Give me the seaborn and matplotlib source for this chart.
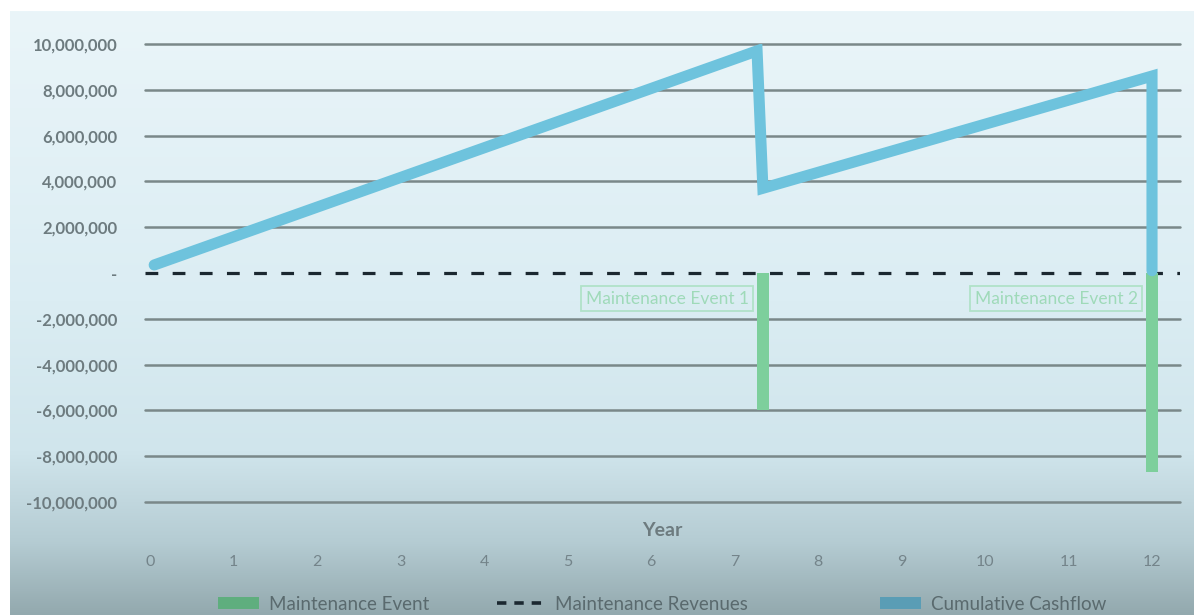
import numpy as np
import matplotlib
matplotlib.use("Agg")
import matplotlib.pyplot as plt
import seaborn as sns
import pandas as pd
from matplotlib.colors import LinearSegmentedColormap
from matplotlib.patches import Patch
from matplotlib.lines import Line2D

# ---- data ----
years = list(range(0, 13))
cash_x = [0.05, 7.27, 7.34, 12.0, 12.0]
cash_y = [0.35e6, 9.7e6, 3.7e6, 8.6e6, 0.1e6]
event_x = [7.34, 12.0]
event_y = [-6.0e6, -8.7e6]
event_labels = ["Maintenance Event 1", "Maintenance Event 2"]
yticks = [10e6, 8e6, 6e6, 4e6, 2e6, 0, -2e6, -4e6, -6e6, -8e6, -10e6]
legend_labels = ["Maintenance Event", "Maintenance Revenues", "Cumulative Cashflow"]

sns.set_theme(style="white")
plt.rcParams['font.family'] = ['Lato', 'DejaVu Sans']

W, H = 1194, 615
fig = plt.figure(figsize=(W / 100, H / 100), dpi=100)
fig.patch.set_facecolor("white")

# gradient background
bg = fig.add_axes([10 / W, 0, 1 - 10 / W, (H - 11) / H])
bg.set_axis_off()
cmap = LinearSegmentedColormap.from_list(
    "bg",
    [(0.0, "#eaf5f9"), (0.48, "#dbedf3"), (0.73, "#d0e5ec"), (0.88, "#b5ccd3"), (1.0, "#93a9ae")],
)
grad = np.linspace(0, 1, 256).reshape(-1, 1)
bg.imshow(grad, aspect="auto", cmap=cmap, extent=[0, 1, 0, 1], origin="upper")
bg.set_xlim(0, 1); bg.set_ylim(0, 1)
bg.set_zorder(0)

# main axes
left, right = 145, 1180
top, bottom = 44, 502
ax = fig.add_axes([left / W, 1 - bottom / H, (right - left) / W, (bottom - top) / H])
ax.set_zorder(1)
ax.patch.set_alpha(0)
for s in ax.spines.values():
    s.set_visible(False)

x0 = -0.06
x1 = x0 + (right - left) / 83.5
ax.set_xlim(x0, x1)
ax.set_ylim(-10e6, 10e6)

for t in yticks:
    if t != 0:
        ax.axhline(t, color="#7a8889", lw=1.8, zorder=1, clip_on=False)

ax.axhline(0, color="#1b2830", lw=2.3, dashes=(4, 4.5), zorder=2)

# bars
bars_df = pd.DataFrame({"x": event_x, "y": event_y})
ax.bar(bars_df["x"], bars_df["y"], width=0.15, color="#7dcf9c",
       edgecolor="none", linewidth=0, zorder=3)

# cumulative cashflow
cash_df = pd.DataFrame({"x": cash_x, "y": cash_y})
sns.lineplot(data=cash_df, x="x", y="y", sort=False, estimator=None, ax=ax,
             color="#6ec3dd", lw=8, zorder=4, solid_joinstyle="miter")

# annotations
for xv, lab in zip(event_x, event_labels):
    ax.text(xv - 0.17, -1.12e6, lab, ha="right", va="center", fontsize=12.5,
            color="#9fdab9", zorder=5,
            bbox=dict(boxstyle="square,pad=0.25", fc="none", ec="#b0e2c8", lw=1.3))

# y ticks
ax.set_yticks(yticks)
ax.set_yticklabels(["-" if v == 0 else f"{int(v):,}" for v in yticks],
                   fontsize=12, fontweight="bold", color="#6d7b7f")
ax.tick_params(axis="y", length=0, pad=20)

# x ticks
ax.set_xticks(years)
ax.set_xticklabels([str(y) for y in years], fontsize=11.5, color="#74848a")
ax.tick_params(axis="x", length=0, pad=38)
ax.set_xlabel("Year", fontsize=14, fontweight="bold", color="#6d7b7f")
ax.xaxis.set_label_coords(0.5, -20 / (bottom - top), transform=ax.transAxes)
ax.set_ylabel("")

# legend
handles = [
    Patch(facecolor="#5fae7e", edgecolor="none"),
    Line2D([0], [0], color="#1b2830", lw=2.6, dashes=(2.6, 2.2)),
    Patch(facecolor="#5a9db5", edgecolor="none"),
]
xs = [218, 497, 880]
for h, lab, xp in zip(handles, legend_labels, xs):
    fig.legend([h], [lab], loc="center left", bbox_to_anchor=(xp / W, 1 - 604 / H),
               frameon=False, fontsize=13.5, handlelength=2.6 if h is handles[1] else 2.2,
               handleheight=0.6, handletextpad=0.5, borderpad=0, borderaxespad=0,
               labelcolor="#5a6a6e")

fig.savefig("out.png", dpi=100)
